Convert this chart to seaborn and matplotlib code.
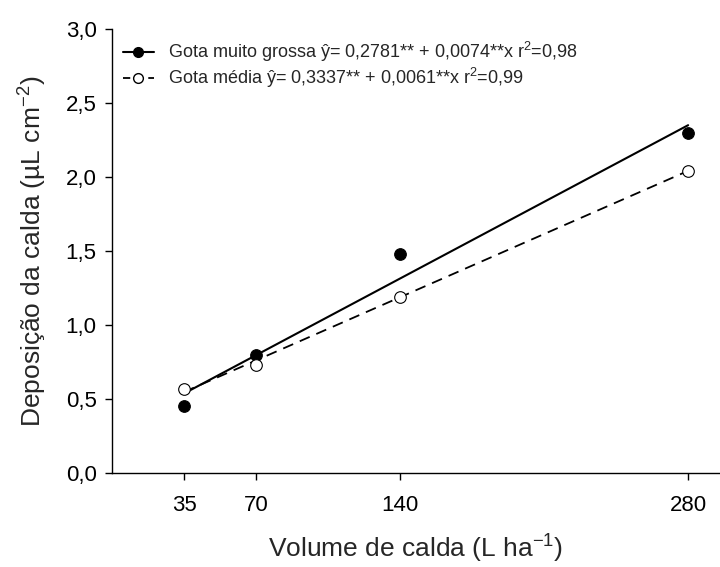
import matplotlib
matplotlib.use("Agg")
import matplotlib.pyplot as plt
import seaborn as sns
import numpy as np
import pandas as pd
from matplotlib.lines import Line2D

# Data
volumes = [35, 70, 140, 280]
gota_grossa = [0.45, 0.80, 1.48, 2.30]
gota_media = [0.57, 0.73, 1.19, 2.04]
coef_grossa = [0.2781, 0.0074]
coef_media = [0.3337, 0.0061]
y_ticks = [0.0, 0.5, 1.0, 1.5, 2.0, 2.5, 3.0]
y_ticklabels = ["0,0", "0,5", "1,0", "1,5", "2,0", "2,5", "3,0"]
x_ticklabels = ["35", "70", "140", "280"]
legend_labels = ["Gota muito grossa ŷ= 0,2781** + 0,0074**x r$^2$=0,98",
                 "Gota média ŷ= 0,3337** + 0,0061**x r$^2$=0,99"]

sns.set_style("ticks")
plt.rcParams['font.family'] = ['Liberation Sans', 'DejaVu Sans']
plt.rcParams['mathtext.fontset'] = 'custom'
plt.rcParams['mathtext.rm'] = 'Liberation Sans'
plt.rcParams['mathtext.it'] = 'Liberation Sans'
plt.rcParams['mathtext.default'] = 'regular'

fig = plt.figure(figsize=(7.2, 5.67), dpi=100)
ax = fig.add_axes([112/720, 1 - 473/567, 607/720, 444/567])

xs = np.array([volumes[0], volumes[-1]])
fit_df = pd.DataFrame({
    "x": np.concatenate([xs, xs]),
    "y": np.concatenate([coef_grossa[0] + coef_grossa[1] * xs,
                         coef_media[0] + coef_media[1] * xs]),
    "s": ["g", "g", "m", "m"],
})
sns.lineplot(data=fit_df[fit_df.s == "g"], x="x", y="y", color="black", lw=1.5, ax=ax)
sns.lineplot(data=fit_df[fit_df.s == "m"], x="x", y="y", color="black", lw=1.3,
             linestyle=(0, (6, 4)), ax=ax)

sns.scatterplot(x=volumes, y=gota_grossa, color="black", s=70, edgecolor="black",
                linewidth=0.8, ax=ax, zorder=5)
sns.scatterplot(x=volumes, y=gota_media, facecolor="white", s=70, edgecolor="black",
                linewidth=0.8, ax=ax, zorder=5)

ax.set_xlim(0, 295)
ax.set_ylim(0, 3.0)
ax.set_xticks(volumes)
ax.set_xticklabels(x_ticklabels, fontsize=16)
ax.set_yticks(y_ticks)
ax.set_yticklabels(y_ticklabels, fontsize=16)
ax.tick_params(axis='both', direction='out', length=5, width=1, pad=11, colors='black')
ax.tick_params(axis='y', pad=6)
for sp in ["top", "right"]:
    ax.spines[sp].set_visible(False)
for sp in ["left", "bottom"]:
    ax.spines[sp].set_linewidth(1.0)
    ax.spines[sp].set_color("black")

ax.set_xlabel("Volume de calda (L ha$^{-1}$)", fontsize=19, labelpad=12)
ax.set_ylabel("Deposição da calda (µL cm$^{-2}$)", fontsize=19, labelpad=12)

handles = [
    Line2D([0], [0], color="black", lw=1.5, marker="o", markersize=7,
           markerfacecolor="black", markeredgecolor="black"),
    Line2D([0], [0], color="black", lw=1.3, linestyle=(0, (4, 3)), marker="o", markersize=7,
           markerfacecolor="white", markeredgecolor="black"),
]
ax.legend(handles, legend_labels, loc="upper left", bbox_to_anchor=(0.0, 1.0),
          frameon=False, fontsize=13, handlelength=1.7, handletextpad=0.8,
          labelspacing=0.12, borderaxespad=0.3, borderpad=0.3)

fig.savefig("out.png", dpi=100)
